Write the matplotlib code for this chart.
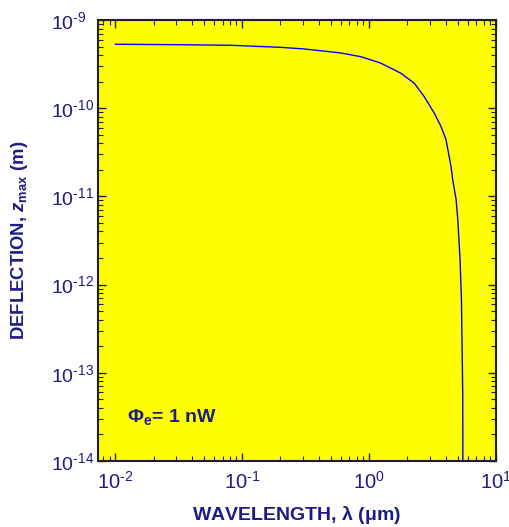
import matplotlib
matplotlib.use("Agg")
import matplotlib.pyplot as plt
import numpy as np
from matplotlib.ticker import LogLocator, NullFormatter, FuncFormatter

plt.rcParams['font.family'] = ['Liberation Sans', 'DejaVu Sans']
plt.rcParams['mathtext.fontset'] = 'custom'
plt.rcParams['mathtext.rm'] = 'Liberation Sans'
plt.rcParams['mathtext.it'] = 'Liberation Sans:italic'
plt.rcParams['mathtext.bf'] = 'Liberation Sans:bold'
plt.rcParams['mathtext.bfit'] = 'Liberation Sans:italic:bold'

# wavelength (um) and deflection (m)
wavelength = [0.01, 0.03, 0.0807, 0.2, 0.306, 0.597, 0.86, 1.237, 1.781, 2.268,
              2.72, 3.265, 3.69, 4.04, 4.42, 4.56, 4.85, 5.0, 5.21, 5.34,
              5.41, 5.47, 5.50]
deflection = [5.31e-10, 5.25e-10, 5.17e-10, 4.9e-10, 4.70e-10, 4.23e-10, 3.84e-10,
              3.24e-10, 2.49e-10, 1.92e-10, 1.35e-10, 8.77e-11, 6.19e-11, 4.38e-11,
              2.18e-11, 1.54e-11, 9.2e-12, 5.43e-12, 1.91e-12, 6.75e-13,
              1.83e-13, 5.5e-14, 1e-15]

navy = '#1c1c84'


def pow10(v, pos):
    e = int(round(np.log10(v)))
    if e < 0:
        return r'$10^{\text{-}%d}$' % (-e)
    return r'$10^{%d}$' % e


fig = plt.figure(figsize=(5.09, 5.27), dpi=100)
ax = fig.add_axes([98/509, 1 - 461/527, 398/509, 441/527])
ax.set_facecolor('#ffff00')

ax.plot(wavelength, deflection, color='#0000ff', lw=1.0)

ax.set_xscale('log')
ax.set_yscale('log')
ax.set_xlim(0.0073, 10)
ax.set_ylim(1e-14, 1e-9)

ax.xaxis.set_major_locator(LogLocator(base=10, numticks=10))
ax.xaxis.set_minor_locator(LogLocator(base=10, subs=np.arange(2, 10), numticks=10))
ax.yaxis.set_major_locator(LogLocator(base=10, numticks=10))
ax.yaxis.set_minor_locator(LogLocator(base=10, subs=np.arange(2, 10), numticks=10))
ax.xaxis.set_major_formatter(FuncFormatter(pow10))
ax.yaxis.set_major_formatter(FuncFormatter(pow10))
ax.xaxis.set_minor_formatter(NullFormatter())
ax.yaxis.set_minor_formatter(NullFormatter())

ax.tick_params(which='both', direction='in', top=True, right=True, color='#202040',
               labelcolor=navy, labelsize=14.5)
ax.tick_params(which='major', length=6, width=1.0)
ax.tick_params(which='minor', length=3.5, width=0.8)
ax.tick_params(axis='x', which='major', pad=7)
ax.tick_params(axis='y', which='major', pad=33.5, labelsize=14)
for lab in ax.get_yticklabels():
    lab.set_horizontalalignment('left')

for s in ax.spines.values():
    s.set_linewidth(1.5)
    s.set_color('#202020')

ax.set_xlabel(r'WAVELENGTH, $\mathbf{\lambda}$ ($\mathbf{\mu}$m)', fontsize=14,
              fontweight='bold', color=navy)
ax.xaxis.set_label_coords(0.5, -0.098)
ax.set_ylabel(r'DEFLECTION, $\mathbfit{z}_{\mathbf{max}}$ (m)', fontsize=13.3,
              fontweight='bold', color=navy)
ax.yaxis.set_label_coords(-0.171, 0.5)

ax.text(0.073, 0.089, r'$\mathbf{\Phi_e}$= 1 nW', transform=ax.transAxes,
        fontsize=14, fontweight='bold', color=navy)

fig.savefig('out.png', dpi=100)
